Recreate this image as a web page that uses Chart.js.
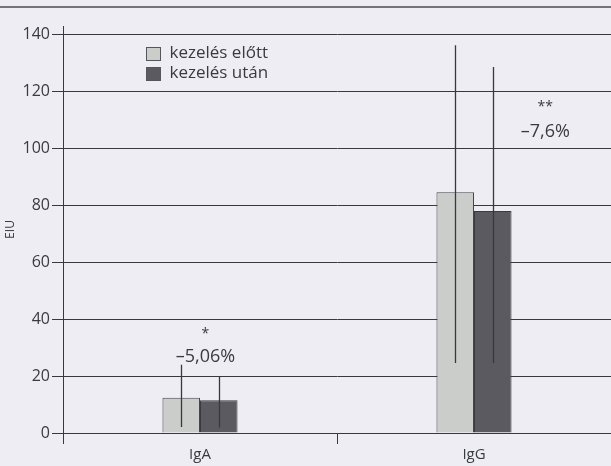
<!DOCTYPE html>
<html>
<head>
<meta charset="utf-8">
<script src="https://cdn.jsdelivr.net/npm/chart.js@4"></script>
<style>
  html, body { margin: 0; padding: 0; background: #eeedf4; }
  #wrap { width: 611px; height: 466px; position: relative; }
</style>
</head>
<body>
<div id="wrap"><canvas id="c"></canvas></div>
<script>
// Serum immunoglobulin levels (EIU) before and after treatment
const categories = ['IgA', 'IgG'];
const seriesNames = ['kezelés előtt', 'kezelés után'];
const beforeValues = [12.4, 84.6];
const afterValues = [11.5, 78.0];
const beforeErrLow = [2.1, 24.6];
const beforeErrHigh = [24.0, 136.2];
const afterErrLow = [1.9, 24.6];
const afterErrHigh = [19.9, 128.6];
const yTickValues = [0, 20, 40, 60, 80, 100, 120, 140];

// change notes: significance marks and percent change per category
const significance = ['*', '**'];
const changeLabels = ['–5,06%', '–7,6%'];
const notePos = [0.02, 1.26];   // position along the category axis
const starY = [36.0, 115.7];
const changeY = [26.9, 105.9];

const INK = '#38383f';
const TEXT = '#3a3a42';
const FONT = "'Open Sans', 'DejaVu Sans', sans-serif";

const errLow = [beforeErrLow, afterErrLow];
const errHigh = [beforeErrHigh, afterErrHigh];

const pagePlugin = {
  id: 'page',
  beforeDraw(chart) {
    const ctx = chart.ctx;
    ctx.save();
    ctx.fillStyle = '#eeedf4';
    ctx.fillRect(0, 0, chart.width, chart.height);
    ctx.strokeStyle = '#4a4a52';
    ctx.lineWidth = 1.5;
    ctx.beginPath();
    ctx.moveTo(0, 7);
    ctx.lineTo(chart.width, 7);
    ctx.stroke();
    ctx.restore();
  }
};

const errorBarPlugin = {
  id: 'errorBars',
  afterDatasetsDraw(chart) {
    const ctx = chart.ctx;
    const y = chart.scales.y;
    ctx.save();
    ctx.strokeStyle = INK;
    ctx.lineWidth = 1.3;
    chart.data.datasets.forEach((ds, i) => {
      const meta = chart.getDatasetMeta(i);
      meta.data.forEach((bar, j) => {
        const x = Math.round(bar.x) + 0.5;
        ctx.beginPath();
        ctx.moveTo(x, y.getPixelForValue(errLow[i][j]));
        ctx.lineTo(x, y.getPixelForValue(errHigh[i][j]));
        ctx.stroke();
      });
    });
    ctx.restore();
  }
};

const legendPlugin = {
  id: 'insideLegend',
  afterDraw(chart) {
    const ctx = chart.ctx;
    const area = chart.chartArea;
    ctx.save();
    ctx.font = '17px ' + FONT;
    ctx.textBaseline = 'middle';
    chart.data.datasets.forEach((ds, i) => {
      const bx = area.left + 83.5;
      const by = area.top + 21.5 + i * 20;
      ctx.fillStyle = ds.backgroundColor;
      ctx.fillRect(bx, by, 14, 13);
      ctx.strokeStyle = '#55555c';
      ctx.lineWidth = 1;
      ctx.strokeRect(bx, by, 14, 13);
      ctx.fillStyle = TEXT;
      ctx.fillText(ds.label, bx + 23, by + 6);
    });
    ctx.restore();
  }
};

const notesPlugin = {
  id: 'changeNotes',
  afterDraw(chart) {
    const ctx = chart.ctx;
    const xs = chart.scales.x, ys = chart.scales.y;
    ctx.save();
    ctx.fillStyle = TEXT;
    ctx.textAlign = 'center';
    ctx.textBaseline = 'middle';
    significance.forEach((s, k) => {
      const x = xs.getPixelForValue(notePos[k]);
      ctx.font = '14px ' + FONT;
      ctx.fillText(s, x, ys.getPixelForValue(starY[k]) + 3);
      ctx.font = '18px ' + FONT;
      ctx.fillText(changeLabels[k], x, ys.getPixelForValue(changeY[k]));
    });
    ctx.restore();
  }
};

new Chart(document.getElementById('c'), {
  type: 'bar',
  data: {
    labels: categories,
    datasets: [
      {
        label: seriesNames[0],
        data: beforeValues,
        backgroundColor: '#cbcdcb',
        borderColor: '#45454c',
        borderWidth: 1,
        borderSkipped: 'start'
      },
      {
        label: seriesNames[1],
        data: afterValues,
        backgroundColor: '#5a5a60',
        borderColor: '#3a3a40',
        borderWidth: 1,
        borderSkipped: 'start'
      }
    ]
  },
  options: {
    responsive: true,
    maintainAspectRatio: false,
    animation: false,
    devicePixelRatio: 1,
    layout: { padding: { top: 26, right: 0, left: 0, bottom: 0 } },
    datasets: { bar: { categoryPercentage: 0.274, barPercentage: 1 } },
    plugins: {
      legend: { display: false },
      tooltip: { enabled: false }
    },
    scales: {
      x: {
        type: 'category',
        offset: true,
        grid: {
          offset: true,
          drawOnChartArea: false,
          drawTicks: true,
          tickLength: 11,
          color: INK,
          lineWidth: 1
        },
        border: { display: true, color: INK, width: 1 },
        ticks: { font: { family: FONT, size: 15 }, color: TEXT, padding: 2 },
        afterFit(scale) { scale.height = 33; }
      },
      y: {
        min: 0,
        max: 143,
        afterBuildTicks(scale) {
          scale.ticks = yTickValues.map(v => ({ value: v }));
        },
        grid: {
          color: INK,
          lineWidth: 1,
          drawTicks: true,
          tickLength: 11
        },
        border: { display: true, color: INK, width: 1 },
        ticks: { font: { family: FONT, size: 16 }, color: TEXT, padding: 2 },
        title: {
          display: true,
          text: 'EIU',
          font: { family: FONT, size: 12 },
          color: TEXT,
          padding: { top: 3, bottom: 0 }
        },
        afterFit(scale) { scale.width = 63; }
      }
    }
  },
  plugins: [pagePlugin, errorBarPlugin, legendPlugin, notesPlugin]
});
</script>
</body>
</html>
